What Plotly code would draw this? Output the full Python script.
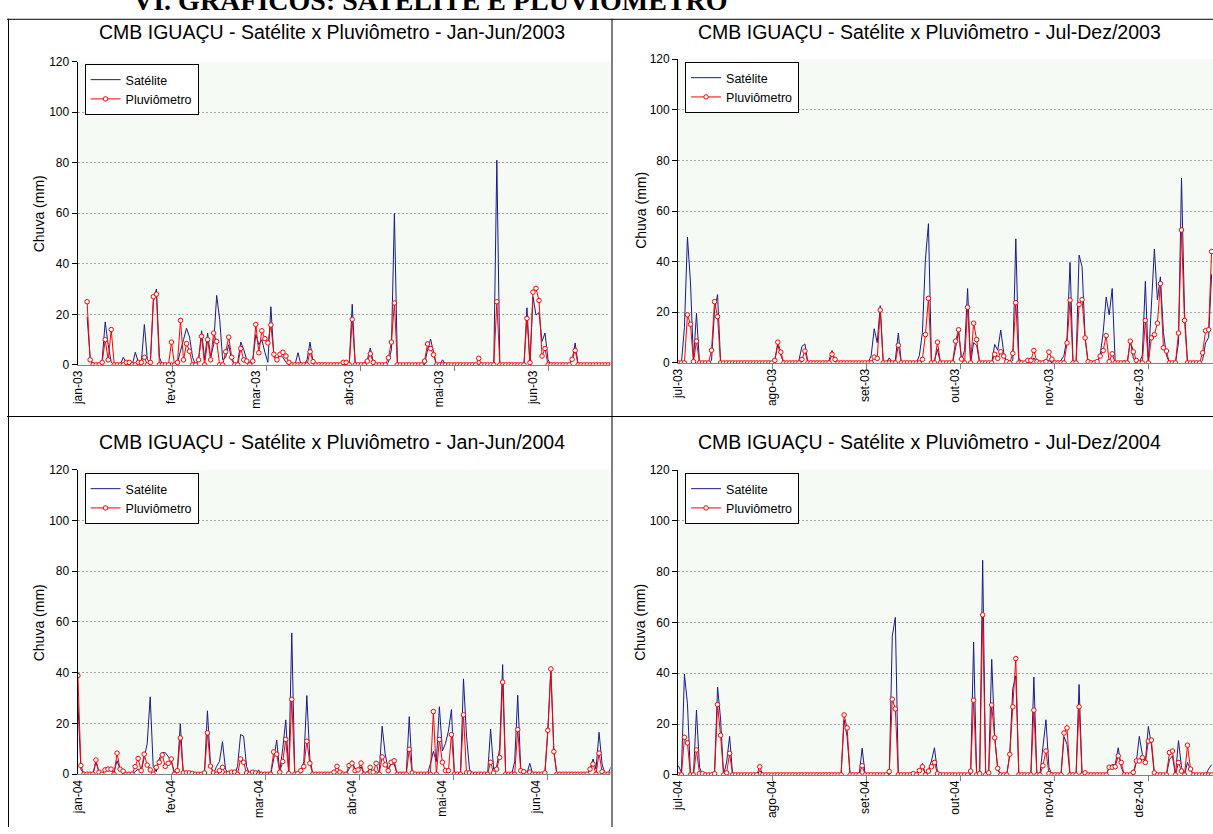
import plotly.graph_objects as go

W, H = 1213, 834

# ---------------- DATA (daily rainfall, mm) ----------------
sat_jan_jun_2003 = [
    None, None, None, 19, 3, 0, 0, 0, 2, 17,
    8, 1, 0, 0, 0, 3, 1, 0, 0, 5,
    1, 1, 16, 2, 1, 25, 30, 3, 0, 0,
    0, 1, 0, 1, 5, 10, 14.5, 11, 3, 0,
    2, 13.5, 2, 12.6, 3, 8, 27.5, 18, 2, 3,
    8, 2, 0, 1, 9, 6, 2, 1, 2, 12,
    8, 10, 5, 1, 23, 3, 2, 4, 3, 1,
    0, 0, 0, 4.8, 0, 0, 2, 9, 1, 0,
    0, 0, 0, 0, 0, 0, 0, 0, 0, 0,
    0, 24, 0, 0, 0, 1, 2, 6.7, 1, 0,
    0, 0, 0, 1, 6, 60, 0, 0, 0, 0,
    0, 0, 0, 0, 0, 0, 6, 10.2, 5, 0,
    0, 2, 0, 0, 0, 0, 0, 0, 0, 0,
    0, 0, 0, 0, 0, 0, 0, 0, 0, 81,
    0, 0, 0, 0, 0, 0, 0, 0, 0, 22.6,
    0, 27, 19.7, 20.7, 9.3, 12.6, 2, 0, 0, 0,
    0, 0, 0, 0, 2, 8.7, 0, 0, 0, 0,
    0, 0, 0, 0, 0, 0, 0, 0,
]
plu_jan_jun_2003 = [
    None, None, None, 25, 2, 0, 0, 0, 1, 10,
    2, 14, 0, 0, 0, 0, 1, 1, 0, 0,
    1, 1, 3, 0, 1, 27, 28, 0, 0, 0,
    0, 9, 0, 1, 17.6, 2, 8.4, 5.4, 0, 0,
    2, 11.3, 0, 10, 2, 12.6, 9.3, 0, 0, 5.2,
    11, 3, 0, 0, 6.5, 2, 1.5, 0, 1.5, 16,
    4.8, 13.5, 10.4, 8.7, 15.8, 4.2, 2, 4.2, 5, 3.5,
    1, 0, 0, 0, 0, 0, 0, 5.2, 1.3, 0,
    0, 0, 0, 0, 0, 0, 0, 0, 1, 1,
    0, 18, 0, 0, 0, 0, 1.5, 4.4, 1, 0,
    0, 0, 0, 2.8, 9, 24.5, 0, 0, 0, 0,
    0, 0, 0, 0, 0, 1.5, 8.3, 6.5, 4, 0,
    0, 0, 0, 0, 0, 0, 0, 0, 0, 0,
    0, 0, 0, 2.6, 0, 0, 0, 0, 0, 25,
    0, 0, 0, 0, 0, 0, 0, 0, 0, 18.4,
    0.9, 28.8, 30.3, 25.5, 3.5, 6.5, 0, 0, 0, 0,
    0, 0, 0, 0, 2.2, 5.7, 0, 0, 0, 0,
    0, 0, 0, 0, 0, 0, 0, 0,
]
sat_jul_dez_2003 = [
    0, 0, 14, 49.7, 32, 1, 19.6, 0, 0, 0,
    0, 1, 21, 27, 0.5, 0, 0, 0, 0, 0,
    0, 0, 0, 0, 0, 0, 0, 0, 0, 0,
    0, 0, 1, 7.3, 3, 0, 0, 0, 0, 0,
    1, 6.5, 7.5, 0, 0, 0, 0, 0, 0, 0,
    1, 4.9, 1, 0, 0, 0, 0, 0, 0, 0,
    0, 0, 0, 0, 3, 13.5, 8, 22.6, 0, 0,
    2, 0, 1, 11.8, 0, 0, 0, 0, 0, 0,
    3, 12, 41, 55, 0, 1, 5.3, 0, 0, 0,
    0, 0, 6, 12.5, 1, 5, 29.4, 0, 8, 7,
    0, 0, 0, 0, 0, 7.3, 5, 13, 4, 0,
    0, 1, 49, 2, 0, 0, 0, 0, 2, 0,
    0, 0, 1, 1, 0, 0, 0, 1, 3, 10,
    39.7, 0, 0, 42.6, 38, 10, 0, 0, 0, 0,
    3, 12, 26, 19, 29.4, 0, 0, 0, 1, 0,
    9, 2, 0, 0, 3, 32.2, 0, 21, 45, 25,
    34, 12, 3, 0, 0, 0, 8, 73, 20, 0,
    0, 0, 0, 0, 1, 8, 10, 35,
]
plu_jul_dez_2003 = [
    0, 0, 0, 19, 15.3, 0.5, 8.6, 0, 0, 0,
    0, 5, 24.2, 18.3, 0, 0, 0, 0, 0, 0,
    0, 0, 0, 0, 0, 0, 0, 0, 0, 0,
    0, 0, 1, 8.2, 4.3, 0, 0, 0, 0, 0,
    0, 1.4, 4.7, 0, 0, 0, 0, 0, 0, 0,
    0, 3.4, 1.4, 0, 0, 0, 0, 0, 0, 0,
    0, 0, 0, 0, 0, 2.3, 1.8, 20.9, 0, 0,
    0, 0, 0, 7, 0, 0, 0, 0, 0, 0,
    0, 1.4, 11.2, 25.5, 0, 0, 8.2, 0, 0, 0,
    0, 0, 8.6, 13.1, 1.5, 0, 22, 0, 15.7, 9.2,
    0, 0, 0, 0, 0, 3.4, 1.8, 4.4, 2.7, 0.5,
    0, 3.8, 23.8, 0, 0, 0, 1, 1, 4.9, 0.5,
    0, 0, 0.5, 4.3, 1.5, 0, 0, 0, 0, 7.9,
    24.8, 0, 0, 23.1, 25, 9.9, 0.5, 0, 0, 0.5,
    2.7, 4.9, 10.8, 0.5, 3.6, 0, 0, 0, 0, 0,
    8.6, 4.4, 1, 0, 0, 16.8, 0, 9.9, 11.2, 15.7,
    31.3, 6, 4.7, 0, 0, 0, 11.8, 52.5, 16.8, 0,
    0, 0, 0, 0, 4, 12.7, 13.1, 44,
]
sat_jan_jun_2004 = [
    28.5, 2, 0, 0, 0, 0, 4.7, 1, 0, 1.5,
    2, 2, 1, 5.3, 2, 0, 0, 0, 0, 1,
    2, 1, 6, 12, 30.5, 3, 1, 6, 8.5, 8.5,
    7, 5, 1, 1, 19.9, 0, 0, 0, 0, 0,
    0, 0, 0, 25, 4, 0, 3, 5, 12.8, 2,
    0, 0, 0, 3, 15.6, 15, 3, 0, 0, 0,
    1.7, 0, 0, 0, 0, 6, 13.4, 1, 10, 21.4,
    1, 55.7, 0, 0, 1, 5, 31, 6, 0, 0,
    0, 0, 0, 0, 0, 0, 1, 0, 0, 0,
    2, 5.3, 2, 1, 3, 0, 1, 2, 1, 1,
    0, 18.9, 8, 2, 4, 4, 0, 0, 0, 0,
    22.7, 0, 0, 0, 0, 0, 0, 4, 9, 5,
    26.6, 9.2, 12, 17, 25.5, 0, 0, 0, 37.6, 15,
    2, 0, 0, 0, 0, 0, 0, 17.8, 2, 3,
    10, 43.2, 0, 0, 0, 5, 31.1, 2, 0, 0,
    4.3, 0, 0, 0, 0, 0, 17, 41, 9, 0,
    0, 0, 0, 0, 0, 0, 0, 0, 0, 0,
    2, 6, 2, 16.5, 4, 0, 0, 3,
]
plu_jan_jun_2004 = [
    38.9, 3.4, 0, 0, 0, 0, 5.6, 0.8, 0, 1.7,
    2, 2, 0, 8.3, 2, 1.2, 0, 0, 0, 3,
    6.2, 1.4, 7.9, 3.6, 1.7, 0, 2.7, 4.7, 7.6, 3.1,
    4.3, 6, 0, 1.4, 14.3, 0.5, 0.5, 0.5, 0.3, 0,
    0, 0, 0.5, 16.3, 3.2, 0.5, 0, 1.4, 2.7, 0,
    0.3, 0.8, 0.8, 0, 6, 4.7, 0.5, 0, 0.8, 0.5,
    0, 0, 0, 0, 0, 8.8, 7.9, 0.8, 5, 13.7,
    0.3, 29.5, 0, 0.3, 1.4, 3, 13, 4.3, 0, 0,
    0, 0, 0, 0, 0, 0.8, 3.1, 0.8, 0, 0,
    3.4, 4.3, 1.4, 1.7, 4.4, 0, 0, 2.7, 0.8, 4.3,
    0, 6.8, 3.7, 1.4, 4.7, 5.3, 0, 0, 0, 0,
    9.8, 0.5, 0, 0, 0, 0, 0, 0, 24.7, 0,
    13.7, 4.7, 1.4, 1.4, 15.6, 0, 0, 0, 23.4, 0.5,
    0.5, 0, 0, 0, 0, 0, 0, 4.7, 0.5, 2,
    6.6, 36.3, 0, 0, 0, 0, 17.6, 1.4, 1, 0,
    0.8, 0, 0, 0, 0, 0.5, 17.3, 41.5, 8.9, 0,
    0, 0, 0, 0, 0, 0, 0, 0, 0, 0,
    2, 4, 0, 8.3, 1, 0, 0, 0,
]
sat_jul_dez_2004 = [
    3.6, 1, 39.7, 28, 0, 0, 25.5, 3, 0, 0,
    0, 0, 1, 34.6, 22, 0, 5, 15.2, 0, 0,
    0, 0, 0, 0, 0, 0, 0, 1.7, 0, 0,
    0, 0, 0, 0, 0, 0, 0, 0, 0, 0,
    0, 0, 0, 0, 0, 0, 0, 0, 0, 0,
    0, 0, 0, 0, 0, 21.7, 15, 0, 0, 0,
    0, 10.5, 0, 0, 0, 0, 0, 0, 0, 0,
    0, 54.6, 62, 0, 0, 0, 0, 0, 0, 0,
    2, 4.5, 0, 2, 5.5, 10.7, 1, 0, 0, 0,
    0, 0, 0, 0, 0, 0, 0, 0, 52.3, 0,
    0, 84.5, 0, 2, 45.5, 15, 2, 0, 0, 0,
    8, 34, 39, 0, 0, 0, 0, 0, 38.5, 0,
    0, 10, 21.7, 3, 0, 0, 0, 0, 15, 12,
    0, 0, 0, 35.6, 0, 0, 0, 0, 0, 0,
    0, 0, 0, 3, 4, 4, 10.7, 3, 0, 0,
    0, 0, 5, 15.2, 8, 5, 19.1, 12, 0, 0,
    0, 0, 0, 6, 7.5, 0, 13.5, 3, 0, 4.9,
    2, 0, 0, 0, 0, 0, 2.3, 4,
]
plu_jul_dez_2004 = [
    0, 0, 14.8, 12.6, 0, 0, 9.8, 0.5, 0.5, 0,
    0, 0, 0.5, 27.7, 15.6, 0, 0.8, 8.5, 0, 0,
    0, 0, 0, 0, 0, 0, 0, 3.2, 0, 0,
    0, 0, 0, 0, 0, 0, 0, 0, 0, 0,
    0, 0, 0, 0, 0, 0, 0, 0, 0, 0,
    0, 0, 0, 0, 0, 23.6, 18.5, 0, 0, 0,
    0, 3.6, 0, 0, 0, 0, 0, 0, 0, 0,
    1.3, 29.8, 26, 0, 0, 0, 0, 0, 0.5, 0,
    1.7, 3.2, 0, 1.5, 3.2, 4.9, 0.5, 0, 0, 0,
    0, 0, 0, 0, 0, 0, 0, 1.5, 29.4, 0,
    0.5, 63, 0, 0.8, 27.5, 14.6, 2.6, 0, 0, 0,
    8.1, 26.8, 45.8, 0, 0, 0, 0, 0, 25.5, 0,
    0, 3.6, 9.4, 0.5, 0, 0, 0, 0, 16.5, 18.5,
    0, 0, 0, 26.8, 0, 0.8, 0, 0, 0, 0,
    0, 0, 0, 3, 3, 3.2, 7.5, 4.9, 0, 0,
    0, 1, 5.5, 5.5, 6.8, 4.9, 13.3, 13.7, 0.8, 0,
    0, 0, 0, 8.8, 9.4, 0, 4.9, 1.5, 0, 11.7,
    2.3, 0, 0, 0, 0, 0, 0, 0,
]

# month-start day offsets and tick labels
month_days_jan_jun_2003 = [0, 31, 59, 90, 120, 151]
month_days_jul_dez = [0, 31, 62, 92, 123, 153]
month_days_jan_jun_2004 = [0, 31, 60, 91, 121, 152]
labels_jan_jun_2003 = ["jan-03", "fev-03", "mar-03", "abr-03", "mai-03", "jun-03"]
labels_jul_dez_2003 = ["jul-03", "ago-03", "set-03", "out-03", "nov-03", "dez-03"]
labels_jan_jun_2004 = ["jan-04", "fev-04", "mar-04", "abr-04", "mai-04", "jun-04"]
labels_jul_dez_2004 = ["jul-04", "ago-04", "set-04", "out-04", "nov-04", "dez-04"]
tick_marks = [31.2, 62.4, 93.6, 124.8, 156.0]

titles = [
    "CMB IGUAÇU - Satélite x Pluviômetro - Jan-Jun/2003",
    "CMB IGUAÇU - Satélite x Pluviômetro - Jul-Dez/2003",
    "CMB IGUAÇU - Satélite x Pluviômetro - Jan-Jun/2004",
    "CMB IGUAÇU - Satélite x Pluviômetro - Jul-Dez/2004",
]
heading = "VI. GRÁFICOS: SATÉLITE E PLUVIÔMETRO"

# ---------------- LAYOUT GEOMETRY (pixels) ----------------
DX = 3.03
panels = [
    dict(sat=sat_jan_jun_2003, plu=plu_jan_jun_2003, days=month_days_jan_jun_2003,
         labels=labels_jan_jun_2003, xl=71, xr=607, yt=55.6, yb=364, x0=71.5,
         title_xy=(327, 25), ytitle_xy=(33, 210), legend_xy=(78, 58)),
    dict(sat=sat_jul_dez_2003, plu=plu_jul_dez_2003, days=month_days_jul_dez,
         labels=labels_jul_dez_2003, xl=675, xr=1213, yt=53, yb=362, x0=675.3,
         title_xy=(928, 25), ytitle_xy=(637, 207), legend_xy=(682, 56)),
    dict(sat=sat_jan_jun_2004, plu=plu_jan_jun_2004, days=month_days_jan_jun_2004,
         labels=labels_jan_jun_2004, xl=71, xr=607, yt=470.7, yb=780.3, x0=71.3,
         title_xy=(327, 442), ytitle_xy=(33, 626), legend_xy=(78, 474)),
    dict(sat=sat_jul_dez_2004, plu=plu_jul_dez_2004, days=month_days_jul_dez,
         labels=labels_jul_dez_2004, xl=675, xr=1213, yt=471, yb=781, x0=675.3,
         title_xy=(928, 442), ytitle_xy=(637, 626), legend_xy=(682, 474)),
]

FONT = "Liberation Sans, Arial, sans-serif"
BLUE = "#1A1A8C"
RED = "#FF0000"

fig = go.Figure()
layout = dict(
    width=W, height=H, margin=dict(l=0, r=0, t=0, b=0),
    paper_bgcolor="white", plot_bgcolor="#F5FAF5",
    font=dict(family=FONT, size=12, color="black"),
    annotations=[], shapes=[],
)

for k, p in enumerate(panels, start=1):
    sfx = "" if k == 1 else str(k)
    leg = "legend" if k == 1 else f"legend{k}"
    fig.add_trace(go.Scatter(
        x=list(range(len(p["sat"]))), y=p["sat"], name="Satélite", mode="lines",
        line=dict(color=BLUE, width=1), xaxis=f"x{sfx}", yaxis=f"y{sfx}",
        legend=leg, connectgaps=False, hoverinfo="skip"))
    fig.add_trace(go.Scatter(
        x=list(range(len(p["plu"]))), y=p["plu"], name="Pluviômetro", mode="lines+markers",
        line=dict(color=RED, width=1),
        marker=dict(symbol="circle", size=4.5, color="white", line=dict(color=RED, width=1)),
        xaxis=f"x{sfx}", yaxis=f"y{sfx}", legend=leg, connectgaps=False, hoverinfo="skip"))

    rng = [(p["xl"] - p["x0"]) / DX, (p["xr"] - p["x0"]) / DX]
    layout[f"xaxis{sfx}"] = dict(
        domain=[p["xl"] / W, p["xr"] / W], range=rng, anchor=f"y{sfx}",
        tickmode="array", tickvals=p["days"], ticktext=p["labels"], tickangle=-90,
        ticks="", showline=True, linecolor="#808080", linewidth=1,
        showgrid=False, zeroline=False, tickfont=dict(size=12, color="black", family=FONT),
        minor=dict(tickmode="array", tickvals=tick_marks, ticks="outside", ticklen=5,
                   tickcolor="#808080", tickwidth=1, showgrid=False),
        fixedrange=True,
    )
    layout[f"yaxis{sfx}"] = dict(
        domain=[1 - p["yb"] / H, 1 - p["yt"] / H], range=[0, 120], anchor=f"x{sfx}",
        tickmode="array", tickvals=[0, 20, 40, 60, 80, 100, 120],
        ticks="outside", ticklen=5, tickcolor="black", showline=True,
        linecolor="black", linewidth=1, showgrid=True, gridcolor="#A8A8A8",
        griddash="2px,2px", gridwidth=1, zeroline=False,
        tickfont=dict(size=12, color="black", family=FONT), fixedrange=True,
    )
    layout[leg] = dict(
        x=p["legend_xy"][0] / W, y=1 - p["legend_xy"][1] / H,
        xanchor="left", yanchor="top", bgcolor="white", bordercolor="black",
        borderwidth=1, font=dict(size=12.5, family=FONT, color="black"),
        itemwidth=30, tracegroupgap=0,
    )
    layout["annotations"].append(dict(
        text=titles[k - 1], x=p["title_xy"][0] / W, y=1 - p["title_xy"][1] / H,
        xref="paper", yref="paper", xanchor="center", yanchor="middle",
        showarrow=False, font=dict(size=19.5, family=FONT, color="black")))
    layout["annotations"].append(dict(
        text="Chuva (mm)", x=p["ytitle_xy"][0] / W, y=1 - p["ytitle_xy"][1] / H,
        xref="paper", yref="paper", xanchor="center", yanchor="middle", textangle=-90,
        showarrow=False, font=dict(size=14, family=FONT, color="black")))

# document heading, clipped at the top edge as in the source page
layout["annotations"].append(dict(
    text="<b>" + heading + "</b>", x=126 / W, y=1 - 10 / H,
    xref="paper", yref="paper", xanchor="left", yanchor="bottom", showarrow=False,
    borderpad=0, font=dict(size=28, family="Liberation Serif, Times New Roman, serif", color="black")))

# table borders
def hline(py, x0=0, x1=W):
    return dict(type="line", xref="paper", yref="paper", x0=x0 / W, x1=x1 / W,
                y0=1 - py / H, y1=1 - py / H, line=dict(color="black", width=1))

def vline(px, y0=12, y1=H):
    return dict(type="line", xref="paper", yref="paper", x0=px / W, x1=px / W,
                y0=1 - y0 / H, y1=1 - y1 / H, line=dict(color="black", width=1))

layout["shapes"] += [hline(12.5), hline(416.5), vline(1.5), vline(608.5)]

fig.update_layout(**layout)
fig.write_html("out.html", post_script="document.body.style.margin='0';")
